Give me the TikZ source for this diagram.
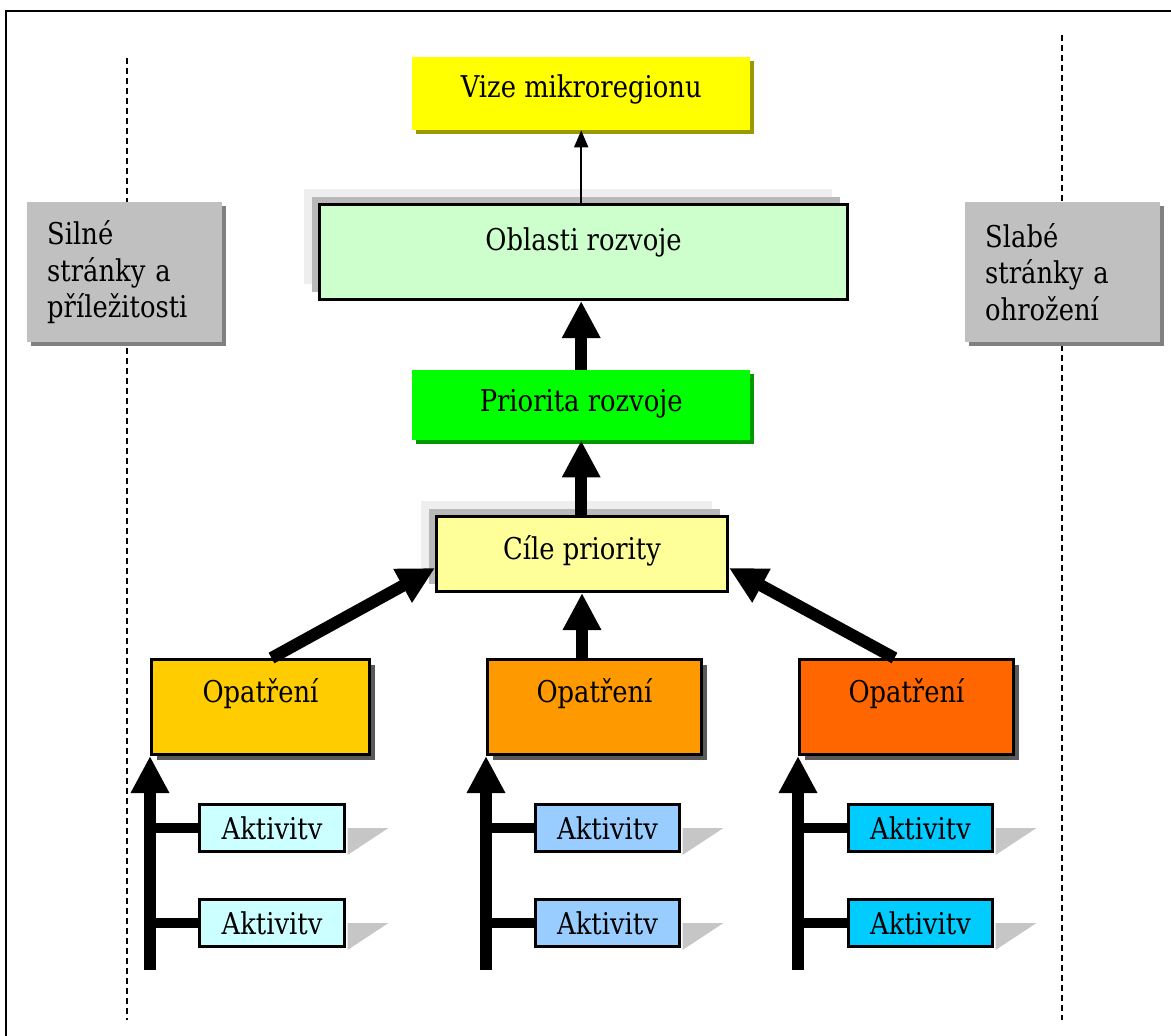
\documentclass[tikz,border=0pt]{standalone}
\usepackage{fontspec}
\setmainfont{DejaVu Serif}[FakeStretch=0.86]
\usetikzlibrary{arrows.meta,shadows}

\definecolor{vizefill}{HTML}{FFFF00}
\definecolor{vizeshade}{HTML}{999900}
\definecolor{oblastifill}{HTML}{CCFFCC}
\definecolor{priofill}{HTML}{00FF00}
\definecolor{prioshade}{HTML}{009900}
\definecolor{cilefill}{HTML}{FFFF99}
\definecolor{opfillA}{HTML}{FFCC00}
\definecolor{opfillB}{HTML}{FF9900}
\definecolor{opfillC}{HTML}{FF6600}
\definecolor{aktfillA}{HTML}{CCFFFF}
\definecolor{aktfillB}{HTML}{99CCFF}
\definecolor{aktfillC}{HTML}{00CCFF}
\definecolor{sidefill}{HTML}{C0C0C0}
\definecolor{sideshade}{HTML}{808080}

\begin{document}
\begin{tikzpicture}[x=1pt, y=-1pt,
  box/.style={anchor=north west, inner sep=0pt, font=\fontsize{30}{36.5}\selectfont},
  framed/.style={box, draw, line width=3pt},
  layered/.style={general shadow={shadow xshift=-16pt, shadow yshift=16pt, fill=gray!13},
                  general shadow={shadow xshift=-8pt, shadow yshift=8pt, fill=gray!55}},
  side/.style={box, fill=sidefill, align=left, text width=155pt, inner xsep=20pt, minimum height=140pt,
               general shadow={shadow xshift=4pt, shadow yshift=-4pt, fill=sideshade}},
  opbox/.style={framed, text height=43pt, text depth=52pt,
                general shadow={shadow xshift=5pt, shadow yshift=-5pt, fill=gray!70!black}},
  aktbox/.style={framed, text height=35pt, text depth=12pt},
  thick arrow/.style={line width=12pt, -{Triangle[width=36pt,length=37pt]}},
  branch/.style={line width=10pt},
  aktshadow/.style={fill=gray!45},
  divider/.style={dash pattern=on 6pt off 4pt, line width=1.3pt}
]

\clip (0,0) rectangle (1171,1036);

% frame and the two dividing lines
\draw[line width=2.5pt] (6,1060) -- (6,11) -- (1190,11);
\draw[divider] (127,58) -- (127,1020);
\draw[divider] (1062,35) -- (1062,1020);

% side boxes
\node[side] (silne) at (27,202) {Silné\\stránky a\\příležitosti};
\node[side] (slabe) at (965,202) {Slabé\\stránky a\\ohrožení};

% top of the hierarchy
\node[box, fill=vizefill, minimum width=338pt, text height=40pt, text depth=33pt,
      general shadow={shadow xshift=4pt, shadow yshift=-4pt, fill=vizeshade}] (vize) at (412,57) {Vize mikroregionu};
\node[framed, layered, fill=oblastifill, minimum width=528pt, text height=46pt, text depth=49pt] (oblasti) at (318,203) {Oblasti rozvoje};
\node[box, fill=priofill, minimum width=338pt, text height=41pt, text depth=29pt,
      general shadow={shadow xshift=4pt, shadow yshift=-4pt, fill=prioshade}] (priorita) at (412,370) {Priorita rozvoje};
\node[framed, layered, fill=cilefill, minimum width=291pt, text height=43pt, text depth=32pt] (cile) at (435,515) {Cíle priority};

% measures
\node[opbox, fill=opfillA, minimum width=218pt] (opA) at (150,658) {Opatření};
\node[opbox, fill=opfillB, minimum width=214pt] (opB) at (486,658) {Opatření};
\node[opbox, fill=opfillC, minimum width=214pt] (opC) at (798,658) {Opatření};

% activities
\node[aktbox, fill=aktfillA, minimum width=145pt] (aktA1) at (198,803) {Aktivitv};
\node[aktbox, fill=aktfillA, minimum width=145pt] (aktA2) at (198,898) {Aktivitv};
\node[aktbox, fill=aktfillB, minimum width=144pt] (aktB1) at (534,803) {Aktivitv};
\node[aktbox, fill=aktfillB, minimum width=144pt] (aktB2) at (534,898) {Aktivitv};
\node[aktbox, fill=aktfillC, minimum width=144pt] (aktC1) at (847,803) {Aktivitv};
\node[aktbox, fill=aktfillC, minimum width=144pt] (aktC2) at (847,898) {Aktivitv};

\fill[aktshadow] ([xshift=1.5pt]aktA1.east) -- ++(41,0) -- ([shift={(1.5pt,-2pt)}]aktA1.south east) -- cycle;
\fill[aktshadow] ([xshift=1.5pt]aktA2.east) -- ++(41,0) -- ([shift={(1.5pt,-2pt)}]aktA2.south east) -- cycle;
\fill[aktshadow] ([xshift=1.5pt]aktB1.east) -- ++(41,0) -- ([shift={(1.5pt,-2pt)}]aktB1.south east) -- cycle;
\fill[aktshadow] ([xshift=1.5pt]aktB2.east) -- ++(41,0) -- ([shift={(1.5pt,-2pt)}]aktB2.south east) -- cycle;
\fill[aktshadow] ([xshift=1.5pt]aktC1.east) -- ++(41,0) -- ([shift={(1.5pt,-2pt)}]aktC1.south east) -- cycle;
\fill[aktshadow] ([xshift=1.5pt]aktC2.east) -- ++(41,0) -- ([shift={(1.5pt,-2pt)}]aktC2.south east) -- cycle;

% arrows up the hierarchy
\draw[line width=2pt, -{Triangle[width=14pt,length=17pt]}] (vize.south |- oblasti.north) -- (vize.south);
\draw[thick arrow] (priorita.north) -- (priorita.north |- oblasti.south);
\draw[thick arrow] (cile.north -| priorita.south) -- (priorita.south);
\draw[thick arrow] ([xshift=11pt]opA.north) -- ([yshift=-14pt]cile.west);
\draw[thick arrow] (cile.south |- opB.north) -- (cile.south);
\draw[thick arrow] ([xshift=-12pt]opC.north) -- ([yshift=-14pt]cile.east);

% activity stems
\coordinate (baseA) at (opA.south west |- 0,970);
\coordinate (baseB) at (opB.south west |- 0,970);
\coordinate (baseC) at (opC.south west |- 0,970);
\draw[thick arrow] (baseA) -- (opA.south west);
\draw[thick arrow] (baseB) -- (opB.south west);
\draw[thick arrow] (baseC) -- (opC.south west);
\draw[branch] (baseA |- aktA1.west) -- (aktA1.west);
\draw[branch] (baseA |- aktA2.west) -- (aktA2.west);
\draw[branch] (baseB |- aktB1.west) -- (aktB1.west);
\draw[branch] (baseB |- aktB2.west) -- (aktB2.west);
\draw[branch] (baseC |- aktC1.west) -- (aktC1.west);
\draw[branch] (baseC |- aktC2.west) -- (aktC2.west);

\end{tikzpicture}
\end{document}
